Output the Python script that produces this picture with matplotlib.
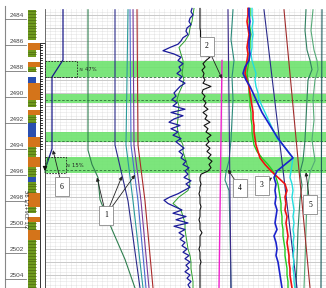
import matplotlib
matplotlib.use("Agg")
import matplotlib.pyplot as plt
from matplotlib.patches import Rectangle
import numpy as np

# depth scale (m)
depth_labels = [2484, 2486, 2488, 2490, 2492, 2494, 2496, 2498, 2500, 2502, 2504]
top_depth = 2483.55
bot_depth = 2505.0

# lithology column: (top, bottom, code)
lith_top = [2483.6, 2485.9, 2486.15, 2486.7, 2487.2, 2487.6, 2488.0, 2488.4, 2488.8, 2489.25,
            2490.55, 2491.1, 2491.3, 2491.7, 2492.3, 2493.4, 2494.15, 2494.9, 2495.7, 2496.45,
            2496.85, 2497.7, 2498.75, 2499.25, 2499.55, 2499.9, 2500.55, 2501.3]
lith_code = ['G', 'W', 'O', 'G', 'W', 'O', 'G', 'W', 'B', 'O', 'G', 'W', 'O', 'G', 'B', 'O',
             'G', 'O', 'G', 'B', 'G', 'O', 'G', 'W', 'O', 'G', 'O', 'G']
lith_col = {'G': '#6e9a1e', 'O': '#d4741a', 'B': '#2a4fb0', 'W': '#ffffff'}

# reservoir intervals (green bands)
band_top = [2487.54, 2490.08, 2493.0, 2494.92]
band_bot = [2488.77, 2490.77, 2493.77, 2496.15]
band_dash = [2488.77, 2490.54, 2493.7, 2495.92]

# GR-type log (blue) and smoothed copy (green), black log
d25 = np.arange(2483.5, 2505.01, 0.25)
gr = [192, 191, 193, 190, 189, 191, 187, 186, 188, 183, 181, 178, 170, 163, 174, 181, 178, 183,
      179, 181, 177, 182, 179, 185, 180, 177, 174, 176, 172, 177, 173, 185, 171, 183, 174, 169,
      180, 171, 178, 173, 181, 176, 180, 184, 179, 183, 181, 186, 183, 189, 185, 188, 184, 191,
      186, 190, 184, 178, 170, 164, 168, 175, 182, 173, 186, 176, 188, 174, 185, 179, 184, 180,
      185, 182, 187, 183, 189, 185, 190, 186, 189, 185, 190, 187, 191, 188, 190]
res = [200, 200, 200, 200, 200, 200, 200, 200.5, 200.5, 200.5, 201, 201, 201, 201, 201,
       210, 206, 203, 205, 202, 204, 203, 205, 203, 211, 203, 202, 205, 203, 206, 204, 208,
       203, 207, 205, 210, 204, 208, 206, 211, 207, 209, 206, 210, 207, 211, 208, 212, 209,
       211, 208, 201,
       200, 200, 201, 200, 200, 199, 200, 200, 200, 201, 200, 200, 200, 199, 200, 200, 200,
       202, 200, 200, 200, 200, 199, 200, 200, 200, 201, 200, 200, 200, 200, 200, 200, 200, 200]
d50 = np.arange(2483.5, 2505.01, 0.5)
gr_s = [194, 193, 192, 190, 189, 185, 179, 181, 183, 183, 182, 184, 182, 179, 177, 179, 178, 178,
        177, 178, 180, 183, 183, 185, 187, 189, 189, 190, 188, 179, 173, 181, 183, 185, 185, 186,
        187, 188, 190, 191, 191, 192, 193, 193]

# right-hand group of logs
red = [248, 248, 247, 248, 249, 248, 247, 248, 247, 246, 245, 247, 249, 250, 251, 252, 253, 253,
       254, 254, 255, 256, 258, 260, 265, 271, 278, 285, 287, 285, 286, 285, 287, 286, 287, 288,
       287, 288, 289, 289, 290, 290, 291, 292]
grn = [250, 250, 249, 250, 251, 250, 250, 249, 249, 248, 247, 248, 249, 249, 250, 250, 251, 251,
       252, 252, 253, 254, 257, 262, 268, 273, 276, 278, 279, 280, 281, 281, 282, 282, 283, 283,
       284, 285, 285, 286, 287, 287, 288, 288]
cyan = [252, 252, 253, 252, 253, 252, 252, 251, 252, 254, 256, 255, 256, 258, 259, 262, 265, 268,
        271, 274, 277, 283, 288, 293, 292, 291, 290, 292, 293, 292, 293, 294, 293, 294, 293, 294,
        293, 294, 293, 294, 293, 294, 294, 295]
blue = [249, 249, 250, 249, 250, 249, 249, 250, 249, 245, 243, 246, 250, 253, 256, 259, 262, 266,
        270, 274, 278, 283, 288, 293, 285, 277, 274, 276, 275, 276, 275, 277, 276, 275, 277, 274,
        276, 277, 276, 278, 279, 280, 281, 282]

# sparse logs (depth, value)
teal_d = [2483.6, 2485.9, 2487.5, 2488.8, 2490.5, 2493.6, 2495.2, 2496.1, 2496.7, 2497.5, 2500.5, 2505.0]
teal_x = [233, 231, 234, 232, 233, 231, 229, 226, 225, 229, 230, 231]
gA_d = [2483.6, 2485.2, 2486.7, 2487.5, 2488.2, 2489.0, 2490.5, 2492.1, 2493.6, 2495.2, 2496.1,
        2497.1, 2498.2, 2500.5, 2502.9, 2505.0]
gA_x = [306, 305, 307, 310, 312, 308, 307, 306, 305, 303, 300, 302, 300, 298, 297, 296]
gB_x = [313, 311, 314, 317, 318, 315, 313, 314, 312, 315, 310, 308, 307, 306, 305, 304]
lin_d = [2483.6, 2494.0, 2498.3, 2505.0]
navyL = [115, 115, 128, 140]
tealL = [128, 126, 133, 143]
blueL = [130, 131, 138, 146]
purpL = [133, 134, 141, 149]
redL = [137, 138, 145, 153]
c1_d = [2483.6, 2494.4, 2495.5, 2496.5, 2498.2, 2500.5, 2502.8, 2505.0]
c1_x = [88, 88, 92, 98, 100, 112, 125, 135]
c6_d = [2483.6, 2487.46, 2488.77, 2494.3, 2495.9]
c6_x = [63, 63, 52, 52, 45]
straight_d = [2483.6, 2505.0]
navyR = [264, 297]
brownR = [284, 310]
purpR = [228, 231]
edgeR = [322, 321]
mag_d = [2487.5, 2505.0]
magR = [222, 219]

# callouts: label, box (x, depth), arrow tips [(x, depth)]
callouts = [
    ('1', (106, 2499.4), [(122, 2496.4), (135, 2496.3), (97, 2496.5)]),
    ('2', (207, 2486.4), [(222, 2488.9)]),
    ('3', (262, 2497.1), [(272, 2496.5)]),
    ('4', (240, 2497.3), [(228, 2495.9)]),
    ('5', (310, 2498.6), [(306, 2496.1)]),
    ('6', (62, 2497.2), [(53, 2494.4)]),
]

fig = plt.figure(figsize=(3.26, 2.88), dpi=100)
ax = fig.add_axes([0, 0, 1, 1])
ax.set_xlim(0, 326)
ax.set_ylim(bot_depth, 2482.85)
ax.axis('off')

# grid of the log track
x0, x1 = 45, 326
for d in np.arange(2483.75, bot_depth, 0.25):
    ax.plot([x0, x1], [d, d], color='#cccccc', lw=0.4, ls=(0, (1, 1)), zorder=1)
for d in np.arange(2484, bot_depth, 1.0):
    ax.plot([x0, x1], [d, d], color='#b4b4b4', lw=0.45, zorder=1)
for x in np.arange(x0 + 5, x1, 5.2):
    ax.plot([x, x], [top_depth, bot_depth], color='#cccccc', lw=0.4, ls=(0, (1, 1)), zorder=1)

# green bands
for t, b in zip(band_top, band_bot):
    ax.add_patch(Rectangle((x0, t), x1 - x0, b - t, color='#6ee36e', alpha=0.9, lw=0, zorder=2))
for d in band_dash:
    ax.plot([x0, x1], [d, d], color='#2f6f3a', lw=0.6, ls=(0, (3, 2)), zorder=3)

# depth track
ax.plot([5, 5], [2483.3, bot_depth], color='#888888', lw=0.8)
for d in depth_labels:
    ax.plot([5, 26], [d + 0.3, d + 0.3], color='#777777', lw=0.6)
    ax.text(24, d + 0.2, str(d), ha='right', va='bottom', fontsize=4.6,
            color='#444444', family='Liberation Sans')
ax.text(26.3, 2498.9, 'ЭБ 1/1+9СЕ 1/2', rotation=-90, ha='center', va='center',
        fontsize=3.4, color='#222222', family='DejaVu Sans', zorder=10)

# lithology
lith_bot = lith_top[1:] + [bot_depth]
for t, b, c in zip(lith_top, lith_bot, lith_code):
    w = 12 if c == 'O' else 8
    ax.add_patch(Rectangle((28, t), w, b - t, facecolor=lith_col[c], edgecolor='none', zorder=2))
    if c == 'G':
        for d in np.arange(t + 0.12, b, 0.22):
            ax.plot([28, 36], [d, d], color='#45600f', lw=0.4, zorder=3)

# perforation column
ax.plot([40, 40], [2486.15, bot_depth], color='#333333', lw=0.7, zorder=4)
ax.plot([44.5, 44.5], [2486.15, bot_depth], color='#333333', lw=0.7, zorder=4)
ax.plot([40, 44.5], [2486.15, 2486.15], color='#333333', lw=0.7, zorder=4)
for d in np.arange(2486.3, 2494.4, 0.2):
    ax.plot([40, 42], [d, d], color='#111111', lw=0.6, zorder=4)
ax.plot([x0, x0], [top_depth, bot_depth], color='#555555', lw=0.6, zorder=4)

# logs
ax.plot(gr_s, d50, color='#2ca02c', lw=0.7, zorder=5)
ax.plot(gr, d25, color='#1a1a9a', lw=0.9, zorder=6)
ax.plot(res, d25, color='#111111', lw=0.8, zorder=6)
ax.plot(grn, d50, color='#22cc22', lw=1.0, zorder=6)
ax.plot(cyan, d50, color='#22dddd', lw=1.0, zorder=6)
ax.plot(red, d50, color='#ee1111', lw=1.2, zorder=7)
ax.plot(blue, d50, color='#1a22cc', lw=1.2, zorder=7)
ax.plot(teal_x, teal_d, color='#2a8a7a', lw=0.8, zorder=5)
ax.plot(gA_x, gA_d, color='#2f7f5f', lw=0.8, zorder=5)
ax.plot(gB_x, gA_d, color='#55aa77', lw=0.8, zorder=5)
ax.plot(navyL, lin_d, color='#2a2a8a', lw=0.8, zorder=5)
ax.plot(tealL, lin_d, color='#2a9a9a', lw=0.8, zorder=5)
ax.plot(blueL, lin_d, color='#4a6ad0', lw=0.8, zorder=5)
ax.plot(purpL, lin_d, color='#7a3a9a', lw=0.8, zorder=5)
ax.plot(redL, lin_d, color='#aa2a2a', lw=0.8, zorder=5)
ax.plot(c1_x, c1_d, color='#2f7f4f', lw=0.8, zorder=5)
ax.plot(c6_x, c6_d, color='#1a1a8a', lw=0.9, zorder=5)
ax.plot(navyR, straight_d, color='#2a2a8a', lw=0.8, zorder=5)
ax.plot(brownR, straight_d, color='#a02a2a', lw=0.8, zorder=5)
ax.plot(purpR, straight_d, color='#3a2a8a', lw=0.8, zorder=5)
ax.plot(edgeR, straight_d, color='#1f5f5f', lw=0.8, zorder=5)
ax.plot(magR, mag_d, color='#ee22cc', lw=1.0, zorder=5)

# porosity annotations
ax.add_patch(Rectangle((x0, 2487.54), 32, 1.23, fill=False, ls=(0, (2, 1.5)), lw=0.6,
                       edgecolor='#222222', zorder=6))
ax.text(79, 2488.3, '≈ 47%', fontsize=3.8, color='#222222', zorder=8)
ax.add_patch(Rectangle((x0, 2494.92), 21, 1.23, fill=False, ls=(0, (2, 1.5)), lw=0.6,
                       edgecolor='#222222', zorder=6))
ax.plot([45, 48], [2496.1, 2494.95], color='#1f6f2f', lw=0.8, zorder=6)
ax.text(66, 2495.7, '≈ 15%', fontsize=3.8, color='#222222', zorder=8)
ax.annotate('', xy=(45, 2496.0), xytext=(45, 2495.6),
            arrowprops=dict(arrowstyle='-|>', color='#111111', lw=0.8, mutation_scale=6), zorder=8)

# numbered callouts
for lab, (bx, bd), tips in callouts:
    for tx, td in tips:
        ax.annotate('', xy=(tx, td), xytext=(bx, bd),
                    arrowprops=dict(arrowstyle='-|>', color='#222222', lw=0.6,
                                    mutation_scale=5, shrinkA=6, shrinkB=0), zorder=9)
    ax.text(bx, bd, lab, ha='center', va='center', fontsize=5.5, family='Liberation Serif',
            zorder=10, bbox=dict(boxstyle='square,pad=0.7', facecolor='white',
                                 edgecolor='#888888', lw=0.6))

fig.savefig('out.png', dpi=100)
